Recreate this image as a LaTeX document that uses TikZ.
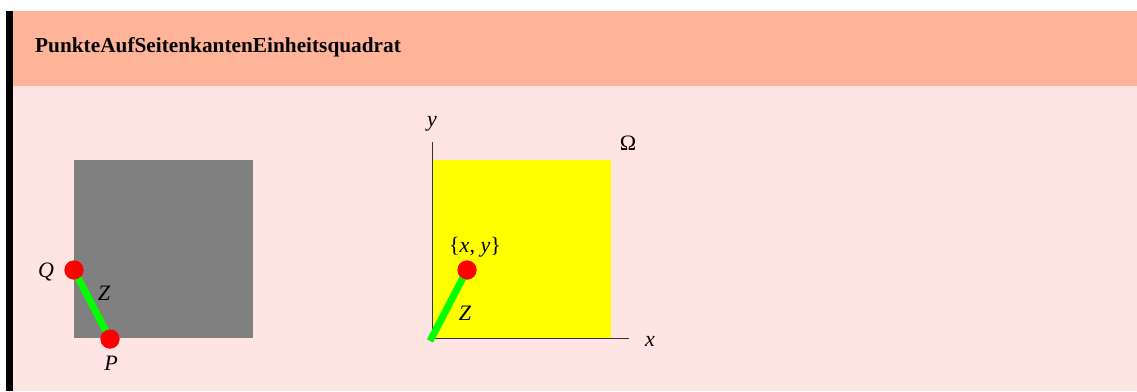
\documentclass[tikz,border=0pt]{standalone}
\usepackage{fontspec}
\setmainfont{Liberation Serif}
\definecolor{hdr}{HTML}{FFB499}
\definecolor{bodybg}{HTML}{FFE4E4}
\definecolor{yel}{HTML}{FFFF00}
\tikzset{
  lbl/.style={inner sep=0pt, font=\fontsize{22}{24}\selectfont\itshape},
  dot/.style={circle, fill=red, minimum size=19pt, inner sep=0pt},
  seg/.style={draw=green, line width=7pt},
  axis/.style={draw=black!80, line width=1pt}
}
\begin{document}
\begin{tikzpicture}[x=1pt,y=-1pt]
\useasboundingbox (0,0) rectangle (1137,391);
\fill[white] (0,0) rectangle (1137,391);
\fill[hdr] (13,11) rectangle (1137,86);
\fill[bodybg] (13,86) rectangle (1137,391);
\fill[black] (6,11) rectangle (13,391);
\node[anchor=west, inner sep=0pt, font=\fontsize{21.3}{24}\selectfont\bfseries] (title) at (35,47) {PunkteAufSeitenkantenEinheitsquadrat};
% left square
\fill[gray] (74,160) rectangle (253,338);
\node[dot] (Q) at (74,270) {};
\node[dot] (P) at (110,339) {};
\draw[seg] (Q.center) -- (P.center);
\node[dot] at (Q) {};
\node[dot] at (P) {};
\node[lbl] (Ql) at (46,272) {Q};
\node[lbl] (Pl) at (111,363) {P};
\node[lbl] (Zl) at (104,293) {Z};
% right diagram
\fill[yel] (433,160) rectangle (611,338);
\coordinate (O) at (432,338);
\coordinate (Ytop) at (432,142);
\coordinate (Xend) at (629,338);
\draw[axis] (O) -- (Ytop);
\draw[axis] (O) -- (Xend);
\coordinate (G) at (430,341);
\node[dot] (D) at (467,270) {};
\draw[seg] (G) -- (D.center);
\node[dot] at (D) {};
\node[lbl] (yl) at (432,124) {y};
\node[lbl] (xl) at (650,341) {x};
\node[inner sep=0pt, font=\fontsize{22}{24}\selectfont] (Om) at (628,143) {Ω};
\node[inner sep=0pt, font=\fontsize{22}{24}\selectfont] (xy) at (475,247) {\{\textit{x},\ \textit{y}\}};
\node[lbl] (Z2) at (465,313) {Z};
\end{tikzpicture}
\end{document}
